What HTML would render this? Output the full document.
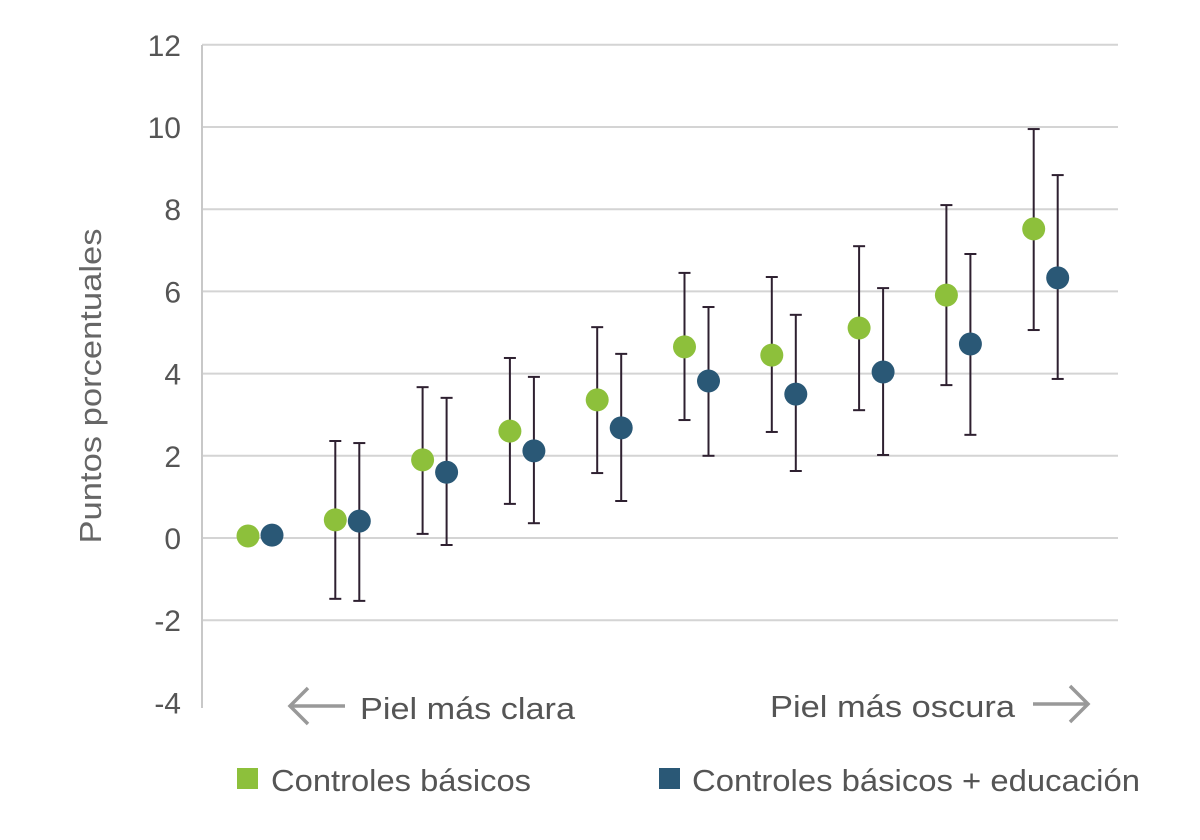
<!DOCTYPE html>
<html><head><meta charset="utf-8"><style>
html,body{margin:0;padding:0;background:#fff;}
svg{display:block;font-family:"Liberation Sans",Arial,sans-serif;}
</style></head><body>
<svg id="chart" width="1200" height="840" viewBox="0 0 1200 840">
<g id="grid"></g>
<g id="yticks"></g>
<line x1="202" y1="45" x2="202" y2="708" stroke="#c8c8c8" stroke-width="2"/>
<text transform="translate(101,386) rotate(-90)" text-anchor="middle" font-size="31" textLength="315" lengthAdjust="spacingAndGlyphs" fill="#666">Puntos porcentuales</text>
<g id="marks"></g>
<g>
<line x1="290" y1="706" x2="345" y2="706" stroke="#999" stroke-width="3.5"/>
<polyline points="308,688 290,706 308,724" fill="none" stroke="#999" stroke-width="3.5"/>
<text x="360" y="719" font-size="31" textLength="215" lengthAdjust="spacingAndGlyphs" fill="#555">Piel más clara</text>
</g>
<g>
<text x="770" y="717" font-size="31" textLength="245" lengthAdjust="spacingAndGlyphs" fill="#555">Piel más oscura</text>
<line x1="1033" y1="704" x2="1088" y2="704" stroke="#999" stroke-width="3.5"/>
<polyline points="1070,686 1088,704 1070,722" fill="none" stroke="#999" stroke-width="3.5"/>
</g>
<g>
<rect x="237" y="768" width="21" height="21" fill="#8dc03b"/>
<text x="271" y="791" font-size="31" textLength="260" lengthAdjust="spacingAndGlyphs" fill="#555">Controles básicos</text>
</g>
<g>
<rect x="659" y="768" width="21" height="21" fill="#2a5876"/>
<text x="692" y="791" font-size="31" textLength="448" lengthAdjust="spacingAndGlyphs" fill="#555">Controles básicos + educación</text>
</g>
</svg>
<script>
const ticks=[12,10,8,6,4,2,0,-2,-4];
const groups=[1,2,3,4,5,6,7,8,9,10];
const basicVals=[0.05,0.44,1.9,2.6,3.36,4.65,4.45,5.11,5.91,7.52];
const basicLo=[null,-1.48,0.1,0.83,1.58,2.87,2.58,3.11,3.72,5.06];
const basicHi=[null,2.36,3.67,4.38,5.13,6.45,6.35,7.1,8.1,9.95];
const eduVals=[0.07,0.41,1.6,2.12,2.68,3.82,3.5,4.04,4.72,6.33];
const eduLo=[null,-1.53,-0.17,0.36,0.9,2.0,1.63,2.02,2.51,3.87];
const eduHi=[null,2.31,3.41,3.92,4.48,5.62,5.43,6.08,6.91,8.83];
const NS='http://www.w3.org/2000/svg';
const y=v=>538-v*41.1;
const x=g=>248+(g-1)*87.3;
function mk(t,a,p){const e=document.createElementNS(NS,t);for(const k in a)e.setAttribute(k,a[k]);p.appendChild(e);return e;}
const grid=document.getElementById('grid'),yt=document.getElementById('yticks'),marks=document.getElementById('marks');
ticks.forEach(t=>{
 if(t>-4){const l=mk('line',{x1:202,x2:1118,y1:y(t),y2:y(t),stroke:'#d4d4d4','stroke-width':2},grid);
 
 }
 const tx=mk('text',{x:181,y:y(t)+11,'text-anchor':'end','font-size':30,fill:'#555'},yt);
 tx.textContent=t;
 
 
});
function series(vals,lo,hi,off,color,name){
 groups.forEach((g,i)=>{
  const cx=x(g)+off;
  if(lo[i]!==null){
   const eb=mk('g',{stroke:'#2e2030','stroke-width':2},marks);
   
   
   mk('line',{x1:cx,x2:cx,y1:y(hi[i]),y2:y(lo[i])},eb);
   mk('line',{x1:cx-6,x2:cx+6,y1:y(hi[i]),y2:y(hi[i])},eb);
   mk('line',{x1:cx-6,x2:cx+6,y1:y(lo[i]),y2:y(lo[i])},eb);
  }
 });
 groups.forEach((g,i)=>{
  const c=mk('circle',{cx:x(g)+off,cy:y(vals[i]),r:11.5,fill:color},marks);
  
  
 });
}
series(basicVals,basicLo,basicHi,0,'#8dc03b','basic');
series(eduVals,eduLo,eduHi,24,'#2a5876','education');
</script>
</body></html>
